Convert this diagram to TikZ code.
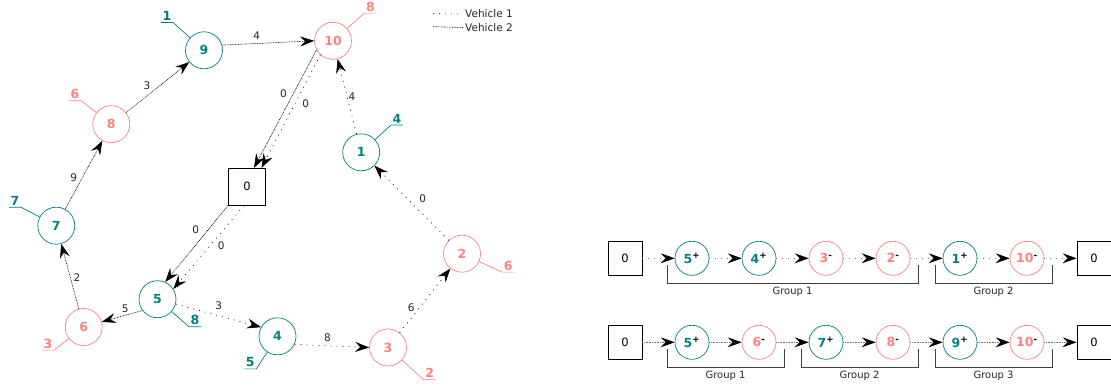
\documentclass[tikz,border=0pt]{standalone}
\usepackage{fontspec}
\setmainfont{DejaVu Sans}
\usetikzlibrary{arrows.meta,calc}

\definecolor{pickcol}{RGB}{0,128,128}
\definecolor{dropcol}{RGB}{255,128,128}

\begin{document}
\begin{tikzpicture}[x=1pt,y=-1pt,
  cust/.style={circle,draw,line width=0.7pt,minimum size=37pt,inner sep=0pt,font=\fontsize{12.5}{14}\selectfont\bfseries},
  pick/.style={cust,pickcol},
  drop/.style={cust,dropcol},
  depot/.style={draw,line width=0.7pt,minimum size=37pt,inner sep=0pt,font=\fontsize{11.5}{13}\selectfont},
  rdepot/.style={depot,minimum size=34pt},
  rpick/.style={pick,minimum size=34pt,execute at end node={\textsuperscript{+}}},
  rdrop/.style={drop,minimum size=34pt,execute at end node={\textsuperscript{-}}},
  dem/.style={inner sep=1.5pt,font=\fontsize{12.5}{14}\selectfont\bfseries},
  wlbl/.style={inner sep=0pt,font=\fontsize{10.5}{12}\selectfont,text=black!85},
  tip/.style={-{Stealth[length=14pt,width=10pt,inset=5pt,color=black]}},
  veh1/.style={tip,line width=0.6pt,dash pattern=on 1pt off 5pt},
  veh2/.style={tip,line width=0.6pt,dash pattern=on 0.8pt off 0.8pt},
  rveh1/.style={veh1,black!55,line width=0.8pt},
  rveh2/.style={veh2,black!55,line width=0.8pt},
  bracket/.style={draw=black!75,line width=0.8pt},
  grplbl/.style={inner sep=3pt,font=\fontsize{10}{12}\selectfont,text=black!85}]
  \useasboundingbox (0,0) rectangle (1111,386);
  \clip (0,0) rectangle (1111,386);

  % customers of the instance
  \node[depot] (n0) at (247,186.7) {0};
  \foreach \n/\x/\y/\s in {9/204/50.3/pick, 10/333/40.8/drop, 8/111.3/124.2/drop,
      1/361.2/152.3/pick, 7/56.3/225.7/pick, 5/157.5/299.2/pick, 6/83.7/327/drop,
      4/277.5/336.3/pick, 3/388/347.5/drop, 2/462/253.7/drop}
    \node[\s] (n\n) at (\x,\y) {\n};

  % demands with leader lines
  \foreach \n/\q/\x/\y/\c/\a/\b in {9/1/167/16.2/pickcol/south east/south west,
      10/8/370.5/6.7/dropcol/south west/south east,
      8/6/75/94.3/dropcol/south east/south west,
      1/4/397/118.8/pickcol/south west/south east,
      7/7/15/201/pickcol/south east/south west,
      5/8/195/320.3/pickcol/south west/south east,
      6/3/48/343.7/dropcol/south east/south west,
      4/5/250.3/362.5/pickcol/south east/south west,
      3/2/429.7/373.3/dropcol/south west/south east,
      2/6/508.3/265.7/dropcol/south west/south east} {
    \node[dem,\c] (d\n) at (\x,\y) {\q};
    \draw[\c,line width=0.7pt] (n\n) -- (d\n.\a) -- (d\n.\b);
  }

  % vehicle 1
  \draw[veh1] ([xshift=-3pt]n0.south) -- (n5.33);
  \draw[veh1] (n5.-15) -- (n4.151);
  \draw[veh1] (n4.-25) -- (n3.west);
  \draw[veh1] (n3) -- (n2);
  \draw[veh1] (n2) -- (n1);
  \draw[veh1] (n1) -- (n10);
  \draw[veh1] (n10.228) -- ([xshift=14.5pt]n0.north);

  % vehicle 2
  \draw[veh2] (n0.south west) -- (n5.66);
  \draw[veh2] (n5.217) -- (n6.16);
  \draw[veh2] (n6) -- (n7);
  \draw[veh2] (n7) -- (n8);
  \draw[veh2] (n8) -- (n9);
  \draw[veh2] (n9.16) -- (n10.west);
  \draw[veh2] (n10.209) -- ([xshift=7pt]n0.north);

  % travel times
  \node[wlbl] (w05a) at (221.3,245.5) {0};
  \node[wlbl] (w54) at (218.8,305.8) {3};
  \node[wlbl] (w43) at (327.5,337.5) {8};
  \node[wlbl] (w32) at (411.2,307.5) {6};
  \node[wlbl] (w21) at (422.8,198.3) {0};
  \node[wlbl] (w110) at (352,97) {4};
  \node[wlbl] (w100a) at (305.8,103.8) {0};
  \node[wlbl] (w05b) at (195.8,230) {0};
  \node[wlbl] (w56) at (125.3,308.5) {5};
  \node[wlbl] (w67) at (77,277.5) {2};
  \node[wlbl] (w78) at (73.7,178) {9};
  \node[wlbl] (w89) at (147,85.8) {3};
  \node[wlbl] (w910) at (256.7,35.8) {4};
  \node[wlbl] (w100b) at (283.5,93.8) {0};

  % legend
  \coordinate (lg1) at (433,13.7);
  \coordinate (lg2) at (433,26.7);
  \node[wlbl,anchor=west] (vh1) at (465,14) {Vehicle 1};
  \node[wlbl,anchor=west] (vh2) at (465,27.5) {Vehicle 2};
  \draw[line width=0.6pt,dash pattern=on 1pt off 5pt] (lg1) -- ([xshift=-2pt]vh1.west);
  \draw[line width=0.6pt,dash pattern=on 0.8pt off 0.8pt] (lg2) -- ([xshift=-2pt]vh2.west);

  % routes as sequences
  \foreach \t/\s [count=\k from 0] in {0/rdepot,5/rpick,4/rpick,3/rdrop,2/rdrop,1/rpick,10/rdrop,0/rdepot}
    \node[\s] (a\k) at (625+67*\k,258.3) {\t};
  \foreach \t/\s [count=\k from 0] in {0/rdepot,5/rpick,6/rdrop,7/rpick,8/rdrop,9/rpick,10/rdrop,0/rdepot}
    \node[\s] (b\k) at (625+67*\k,342.3) {\t};
  \foreach \k [evaluate=\k as \j using int(\k+1)] in {0,...,6} {
    \draw[rveh1] (a\k) -- (a\j);
    \draw[rveh2] (b\k) -- (b\j);
  }

  % groups
  \foreach \i/\j/\g in {a1/a4/1, a5/a6/2, b1/b2/1, b3/b4/2, b5/b6/3}
    \draw[bracket] ($(\i)+(-25,7)$) |- node[grplbl,pos=0.75,below] (g\i) {Group \g}
      ($(\j)+(25,25)$) -- ($(\j)+(25,7)$);
\end{tikzpicture}
\end{document}
